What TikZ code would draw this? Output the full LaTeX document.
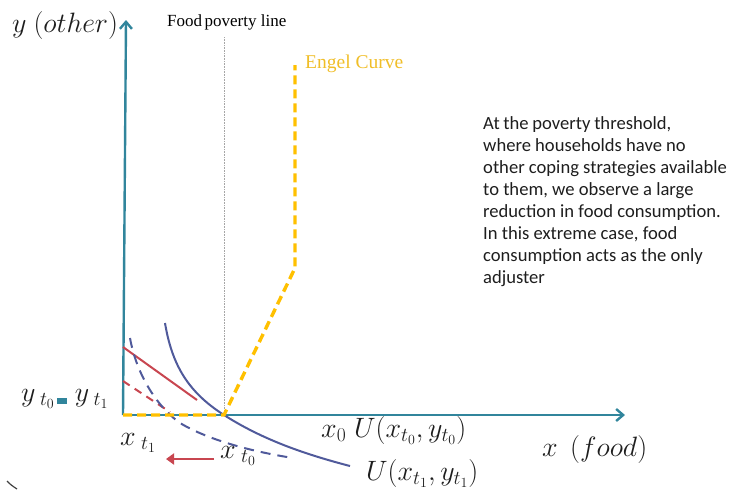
\documentclass[tikz,border=0pt]{standalone}
\usepackage{fix-cm}
\usepackage{fontspec}
\setmainfont{Liberation Serif}
\newfontfamily\calib{Carlito}
\usetikzlibrary{arrows.meta}
\definecolor{axisc}{RGB}{49,133,156}
\definecolor{goldc}{RGB}{255,192,0}
\definecolor{redc}{RGB}{200,70,80}
\definecolor{navyc}{RGB}{80,90,155}
\definecolor{engtxt}{RGB}{240,190,40}
\definecolor{txtc}{RGB}{30,30,30}
\tikzset{
  axisline/.style={draw=axisc, line width=2.4pt, -{Straight Barb[length=7pt,width=12pt,line width=2.4pt]}},
  engel/.style={draw=goldc, line width=3.4pt, dash pattern=on 9pt off 5pt},
  budget/.style={draw=redc, line width=2pt},
  budgetd/.style={draw=redc, line width=2pt, dash pattern=on 8pt off 6pt},
  indiff/.style={draw=navyc, line width=2pt},
  indiffd/.style={draw=navyc, line width=2pt, dash pattern=on 10pt off 7pt},
  mlabel/.style={inner sep=0pt, anchor=base west, font=\fontsize{28}{32}\selectfont, text=txtc},
  serlabel/.style={inner sep=0pt, font=\fontsize{17}{20}\selectfont},
}
\begin{document}
\begin{tikzpicture}[x=1pt,y=-1pt]
\useasboundingbox (0,0) rectangle (736,491);
% key points
\coordinate (O) at (123,415);
\coordinate (ytip) at (126,20);
\coordinate (xtip) at (625,415);
\coordinate (K) at (224,415);
\coordinate (E1) at (295,268);
\coordinate (E2) at (295,65);
\coordinate (P1) at (224,37);
% poverty line
\draw[gray!70, line width=0.6pt, densely dotted] (P1) -- (K);
% axes
\draw[axisline] (O) -- (xtip);
\draw[axisline] (O) -- (ytip);
% budget lines
\coordinate (R1) at (123,347);
\coordinate (R2) at (197,400);
\coordinate (RD1) at (123,381);
\coordinate (RD2) at (170,412);
\draw[budget] (R1) -- (R2);
\draw[budgetd] (RD1) -- (RD2);
% indifference curves
\coordinate (U0a) at (165,323);
\coordinate (U0b) at (350,466);
\draw[indiff] (U0a) .. controls (172,365) and (188,392) .. (K)
  .. controls (260,438) and (300,453) .. (U0b);
\coordinate (U1a) at (130,338);
\coordinate (U1m) at (180,423);
\coordinate (U1b) at (293,458);
\draw[indiffd] (U1a) .. controls (136,372) and (155,405) .. (U1m)
  .. controls (210,441) and (255,452) .. (U1b);
% Engel curve
\draw[engel] (O) -- (K) -- (E1) -- (E2);
% red arrow
\coordinate (A1) at (214,459);
\coordinate (A2) at (166,459);
\draw[draw=redc, line width=2.4pt, -{Triangle[length=8pt,width=11pt]}] (A1) -- (A2);
% stray stroke at the corner
\draw[gray!50!black, line width=1.2pt] (7,481) .. controls (11,485) .. (17,489);
% labels
\node[mlabel] (ylab) at (12,32) {$y\ (other)$};
\node[mlabel] (xlab) at (542,456) {$x\;\,(food)$};
\node[serlabel, anchor=west] (pov) at (167,22) {Food\hspace{-0.1em} poverty line};
\node[serlabel, anchor=west, text=engtxt, font=\fontsize{19.5}{22}\selectfont] (eng) at (305,64) {Engel Curve};
\node[mlabel] (yy) at (21,401) {$y_{\;t_0}$\hspace{2pt}\textcolor{axisc}{\rule[-0.12em]{0.36em}{0.24em}}\hspace{8pt}$y_{\;t_1}$};
\node[mlabel] (xt1) at (120,445) {$x_{\;t_1}$};
\node[mlabel] (xt0) at (220,458) {$x_{\;t_0}$};
\node[mlabel] (u0) at (321,437) {$x_0\;U\bigl(x_{t_0},y_{t_0}\bigr)$};
\node[mlabel] (u1) at (366,480) {$U\bigl(x_{t_1},y_{t_1}\bigr)$};
\node[inner sep=0pt, anchor=north west, align=left,
      font=\calib\fontsize{18.6}{22}\selectfont, text=txtc] (para) at (483,116.5)
  {\spaceskip=0.2em plus 0.05em\relax At the poverty threshold,\\ where households have no\\ other coping strategies available\\ to them, we observe a large\\ reduction in food consumption.\\ In this extreme case, food\\ consumption acts as the only\\ adjuster};
\end{tikzpicture}
\end{document}
